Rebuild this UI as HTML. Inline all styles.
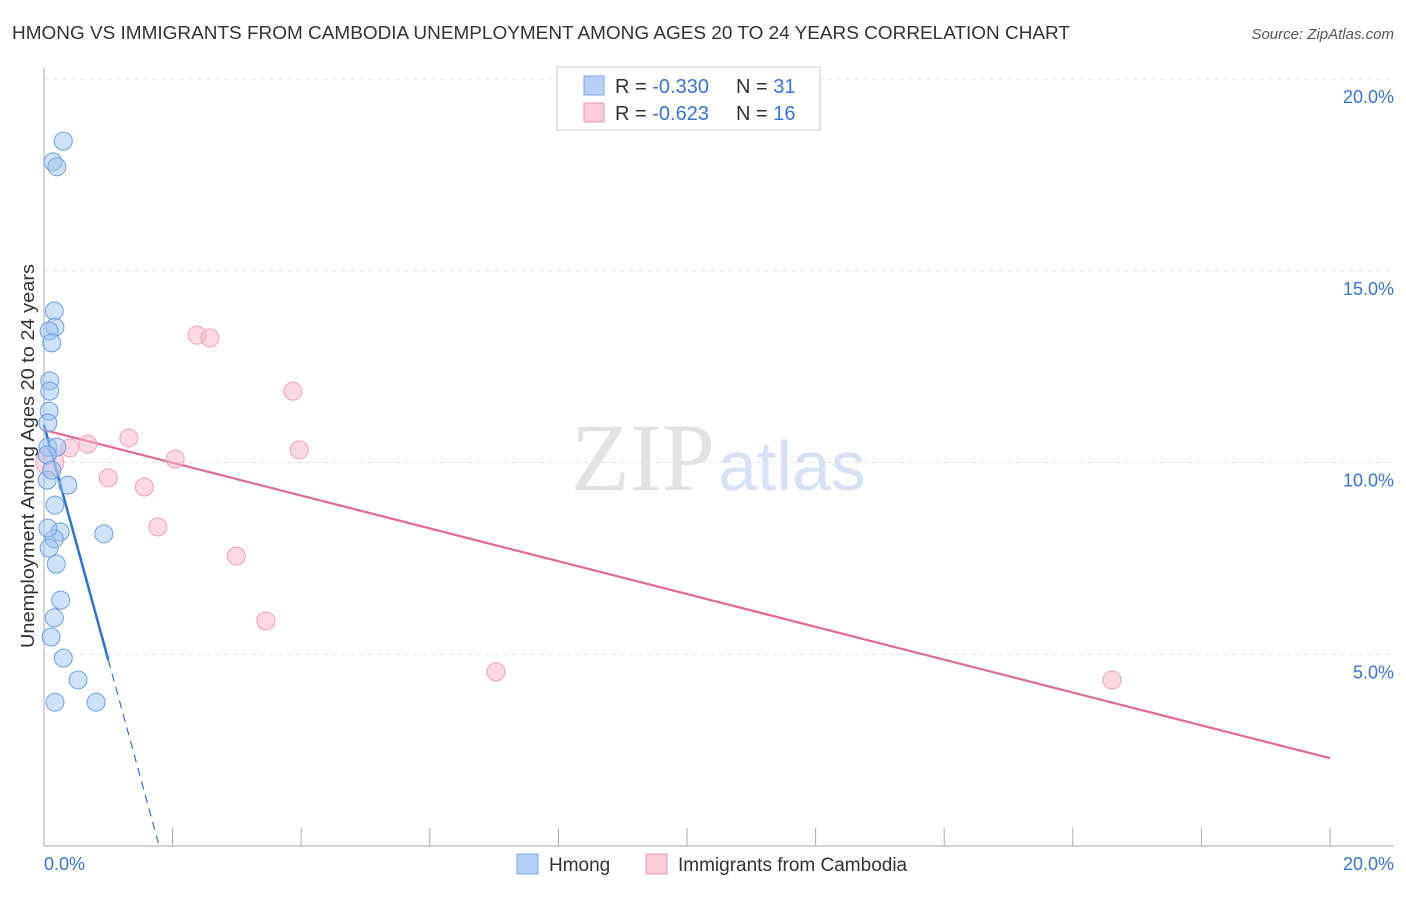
<!DOCTYPE html>
<html><head><meta charset="utf-8"><style>
body{margin:0;background:#fff;font-family:"Liberation Sans",sans-serif}
</style></head><body>
<svg width="1406" height="892" xmlns="http://www.w3.org/2000/svg" font-family="Liberation Sans, sans-serif">
<text x="12" y="39" font-size="18" fill="#333" textLength="1058" lengthAdjust="spacingAndGlyphs">HMONG VS IMMIGRANTS FROM CAMBODIA UNEMPLOYMENT AMONG AGES 20 TO 24 YEARS CORRELATION CHART</text>
<text x="1394" y="39" font-size="15" fill="#555" font-style="italic" text-anchor="end">Source: ZipAtlas.com</text>
<text x="715" y="490" font-size="96" fill="#e2e2e2" text-anchor="end" font-family="Liberation Serif, serif">ZIP</text>
<text x="718" y="490" font-size="70" fill="#d6e2f3">atlas</text>
<g id="grid"></g>
<line x1="44" y1="68" x2="44" y2="846" stroke="#aaa"/>
<line x1="44" y1="846" x2="1394" y2="846" stroke="#aaa"/>
<g id="xticks"></g>
<text transform="translate(34,456) rotate(-90)" font-size="18" fill="#333" text-anchor="middle" textLength="384" lengthAdjust="spacingAndGlyphs">Unemployment Among Ages 20 to 24 years</text>
<text x="44" y="870" font-size="18" fill="#3b73d4">0.0%</text>
<text x="1394" y="870" font-size="18" fill="#3b73d4" text-anchor="end">20.0%</text>
<g id="lines"></g>
<g id="points"></g>
<g>
<rect x="557" y="67" width="263" height="63" fill="#fff" stroke="#ccc"/>
<rect x="584" y="76" width="20" height="19" fill="#b7d0f4" stroke="#7fa7e0"/>
<rect x="584" y="103" width="20" height="19" fill="#fbcbd7" stroke="#ee9ab0"/>
<text x="615" y="93" font-size="20" fill="#333">R = <tspan fill="#3b73d4">-0.330</tspan><tspan x="736">N = </tspan><tspan fill="#3b73d4">31</tspan></text>
<text x="615" y="120" font-size="20" fill="#333">R = <tspan fill="#3b73d4">-0.623</tspan><tspan x="736">N = </tspan><tspan fill="#3b73d4">16</tspan></text>
</g>
<g>
<rect x="517" y="854" width="21" height="20" fill="#b7d0f4" stroke="#7fa7e0"/>
<text x="549" y="871" font-size="19" fill="#333">Hmong</text>
<rect x="646" y="854" width="21" height="20" fill="#fbcbd7" stroke="#ee9ab0"/>
<text x="678" y="871" font-size="19" fill="#333">Immigrants from Cambodia</text>
</g>
</svg>
<script>
const hmongX=[.30,.14,.20,.16,.17,.08,.12,.09,.09,.08,.06,.06,.20,.05,.37,.17,.25,.16,.06,.08,.93,.19,.26,.16,.11,.30,.53,.17,.81,.05,.12];
const hmongY=[18.38,17.84,17.71,13.95,13.53,13.43,13.12,12.13,11.86,11.34,11.03,10.40,10.40,9.54,9.41,8.89,8.19,8.01,8.29,7.77,8.14,7.35,6.41,5.95,5.45,4.90,4.33,3.75,3.75,10.2,9.8];
const cambX=[2.38,2.58,3.87,1.32,.68,.40,3.97,2.04,1.00,1.56,1.77,2.99,3.45,7.03,16.61,.09];
const cambY=[13.32,13.25,11.86,10.64,10.48,10.38,10.33,10.09,9.60,9.36,8.32,7.56,5.87,4.54,4.33,10.01];
const yTicks=[5,10,15,20];
const yTickLabels=["5.0%","10.0%","15.0%","20.0%"];
const xTicks=[0,2,4,6,8,10,12,14,16,18,20];
const hmongFit=[10.98,-6.13];
const cambFit=[10.85,-0.428];
const sx=v=>44+v*64.3, sy=v=>846-v*38.35;
const NS="http://www.w3.org/2000/svg";
function mk(t,a,p){const e=document.createElementNS(NS,t);for(const k in a)e.setAttribute(k,a[k]);p.appendChild(e);return e;}
const grid=document.getElementById('grid');
yTicks.forEach((t,i)=>{
 const l=mk('line',{x1:44,x2:1394,y1:sy(t),y2:sy(t),stroke:'#e4e4e4','stroke-dasharray':'5,4'},grid);
 
 
 const tx=mk('text',{x:1394,y:sy(t)+24,'font-size':18,fill:'#3b73d4','text-anchor':'end'},grid);
 tx.textContent=yTickLabels[i];
 
 
});
const xt=document.getElementById('xticks');
xTicks.forEach(t=>{
 const l=mk('line',{x1:sx(t),x2:sx(t),y1:828,y2:846,stroke:'#aaa'},xt);
 
 
});
const lg=document.getElementById('lines');
const hx1=1.0, hx2=-hmongFit[0]/hmongFit[1];
let l=mk('line',{x1:sx(0),y1:sy(hmongFit[0]),x2:sx(hx1),y2:sy(hmongFit[0]+hmongFit[1]*hx1),stroke:'#2f6fd6','stroke-width':2.5},lg);


l=mk('line',{x1:sx(hx1),y1:sy(hmongFit[0]+hmongFit[1]*hx1),x2:sx(hx2),y2:sy(0),stroke:'#2f6fd6','stroke-width':1.2,'stroke-dasharray':'8,6'},lg);


l=mk('line',{x1:sx(0),y1:sy(cambFit[0]),x2:sx(20),y2:sy(cambFit[0]+cambFit[1]*20),stroke:'#e26b93','stroke-width':2.2},lg);


const pg=document.getElementById('points');
cambX.forEach((x,i)=>{
 const c=mk('circle',{cx:sx(x),cy:sy(cambY[i]),r:i==cambX.length-1?14:9,fill:'rgba(248,180,200,0.5)',stroke:'#eea0b6','stroke-width':1},pg);
 
 
});
hmongX.forEach((x,i)=>{
 const c=mk('circle',{cx:sx(x),cy:sy(hmongY[i]),r:9,fill:'rgba(160,196,240,0.5)',stroke:'#6f9fe0','stroke-width':1},pg);
 
 
});
</script>
</body></html>
